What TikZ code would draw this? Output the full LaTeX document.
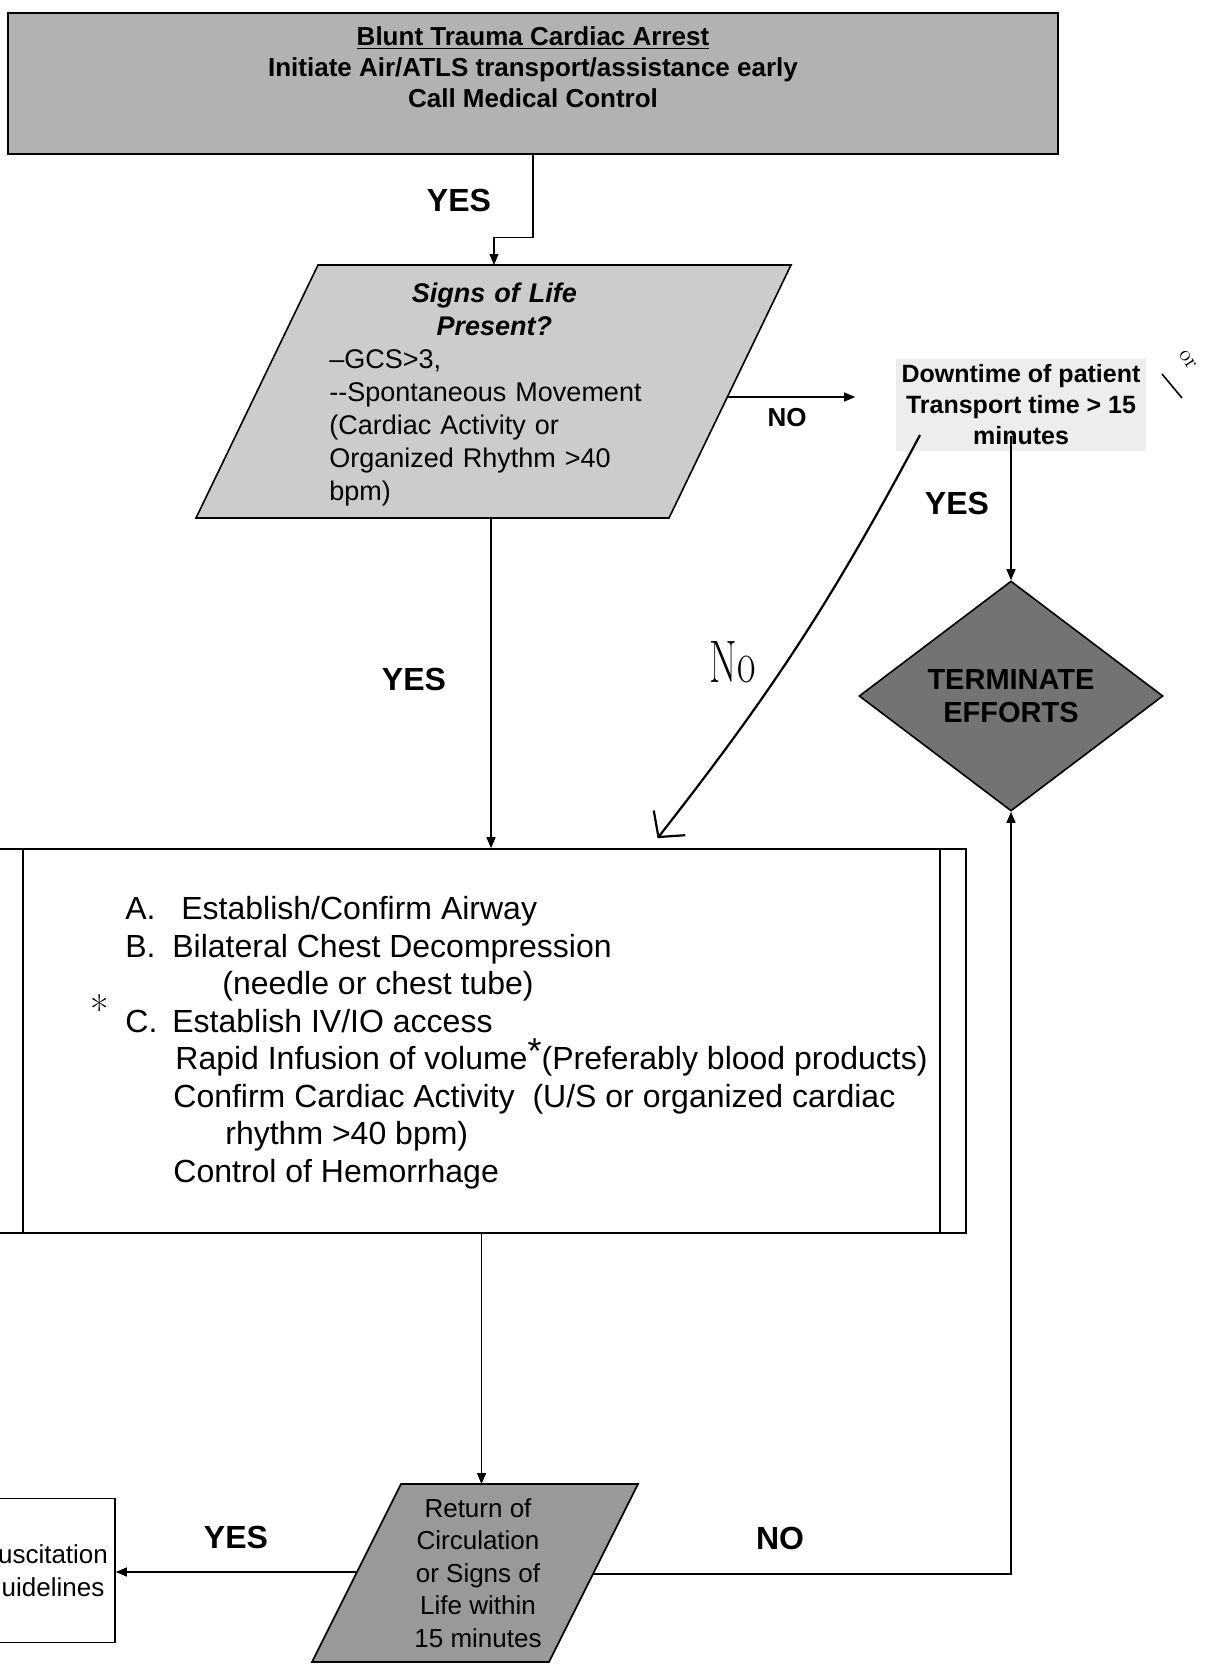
\documentclass[tikz,border=0pt]{standalone}
\usepackage{fontspec}
\usetikzlibrary{arrows.meta,positioning,calc,shapes.geometric}
\newfontfamily\arialfont{Liberation Sans}

\begin{document}
\begin{tikzpicture}[
  x=0.5pt, y=-0.5pt,
  >={Triangle[length=5.5pt,width=4.5pt]},
  box/.style={draw=black, line width=.8pt, align=center, inner sep=0pt},
  slant/.style={draw=black, line width=.8pt},
  txt/.style={font=\arialfont\fontsize{13}{16.25}\selectfont, align=center, inner sep=0pt},
  lbl/.style={font=\arialfont\bfseries\fontsize{16}{19}\selectfont, inner sep=0pt},
  arr/.style={->, line width=.6pt, draw=black},
  hand/.style={line width=1.1pt, -{Straight Barb[length=9pt,width=20pt]}}
]
\clip (0,0) rectangle (1209,1665);

\node[box, fill=black!30, minimum width=524.75pt, minimum height=70.5pt] (arrest) at (533,83.5) {};
\node[txt, font=\arialfont\bfseries\fontsize{13}{15.5}\selectfont] (arresttxt) at ($(arrest.center)+(0,8.25pt)$) {\underline{Blunt Trauma Cardiac Arrest}\\Initiate Air/ATLS transport/assistance early\\Call Medical Control};

% Signs of life question
\coordinate (lifetop) at (494,265);
\coordinate (lifebot) at (491,518);
\coordinate (liferight) at (727,397);
\draw[slant, fill=black!20] (318,265) -- (791,265) -- (669,518) -- (196,518) -- cycle;
\node[anchor=north west, text width=165pt, inner sep=0pt, font=\arialfont\fontsize{13.5}{16.5}\selectfont] (life) at (329,283) {{\centering\bfseries\itshape Signs of Life\\Present?\par}\raggedright
–GCS>3,\\
-{}-Spontaneous Movement\\
(Cardiac Activity or\\
Organized Rhythm >40\\
bpm)};

\node[font=\arialfont\bfseries\fontsize{12.5}{15.5}\selectfont, align=center, fill=black!7, inner sep=3pt] (down) at (1021,405) {Downtime of patient\\Transport time > 15\\minutes};
\node[diamond, aspect=1.32, draw=black, line width=.8pt, fill=black!55, minimum width=152pt, minimum height=115pt, inner sep=0pt, align=center, font=\arialfont\bfseries\fontsize{14.5}{16.5}\selectfont] (term) at (1011,696) {TERMINATE\\EFFORTS};

\node[box, minimum width=484.5pt, minimum height=192pt] (steps) at (481.5,1041) {};
\draw[line width=.8pt] ([xshift=13.5pt]steps.north west) -- ([xshift=13.5pt]steps.south west);
\draw[line width=.8pt] ([xshift=-13.5pt]steps.north east) -- ([xshift=-13.5pt]steps.south east);
\node[anchor=north west, align=left, inner sep=0pt, font=\arialfont\fontsize{16}{18.75}\selectfont] (stepstxt) at (125,896) {\makebox[23.5pt][l]{A.}\hspace{4.5pt}Establish/Confirm Airway\\
\makebox[23.5pt][l]{B.}Bilateral Chest Decompression\\
\hspace*{48.5pt}(needle or chest tube)\\
\makebox[23.5pt][l]{C.}Establish IV/IO access\\
\hspace*{25pt}Rapid Infusion of volume\raisebox{3pt}{\fontsize{18}{18}\selectfont *}(Preferably blood products)\\
\hspace*{24pt}Confirm Cardiac Activity\ \ (U/S or organized cardiac\\
\hspace*{50pt}rhythm >40 bpm)\\
\hspace*{24pt}Control of Hemorrhage};
\node[font=\fontsize{20}{20}\selectfont] (star) at (100,1010) {*};

% Return of circulation question
\coordinate (rosctop) at (476,1484);
\coordinate (roscleft) at (357,1572);
\coordinate (roscright) at (593,1574);
\draw[slant, fill=black!40] (401,1484) -- (638,1484) -- (549,1662) -- (312,1662) -- cycle;
\node[txt] (rosc) at (478,1573) {Return of\\Circulation\\or Signs of\\Life within\\15 minutes};
\node[box, txt, draw=black, line width=.8pt, minimum width=62pt, minimum height=72pt] (resus) at (53,1570.5) {uscitation\\uidelines};

\draw[arr] (arrest.south) -- ++(0,-41.5pt) -| (lifetop);
\draw[arr] (liferight) -- ([xshift=-20pt]down.west |- liferight);
\draw[arr] ($(term.north |- down.south)+(0,8pt)$) -- (term.north);
\draw[arr] (lifebot) -- (lifebot |- steps.north);
\draw[arr] (steps.south) -- (steps.south |- rosctop);
\draw[arr] (roscleft) -- (roscleft -| resus.east);
\draw[arr] (roscright) -| (term.south);

\node[lbl] (yes1) at (459,200) {YES};
\node[lbl, font=\arialfont\bfseries\fontsize{13}{15}\selectfont] (no1) at (787,418) {NO};
\node[lbl] (yes2) at (414,679) {YES};
\node[lbl] (yes3) at (957,503) {YES};
\node[lbl] (yes4) at (236,1537) {YES};
\node[lbl] (no2) at (780,1538) {NO};

% handwritten notes
\coordinate (handfrom) at (920,435);
\draw[hand] (handfrom) to[bend left=5] ([xshift=88pt,yshift=5pt]steps.north);
\node[font=\fontsize{20}{24}\selectfont] (nohand) at (733,662) {\scalebox{1}[1.5]{No}};
\node[rotate=-55, font=\fontsize{11}{11}\selectfont, inner sep=0pt] (orhand) at (1188,360) {or};
\draw[line width=.8pt] (1162,374) -- (1182,398);
\end{tikzpicture}
\end{document}
